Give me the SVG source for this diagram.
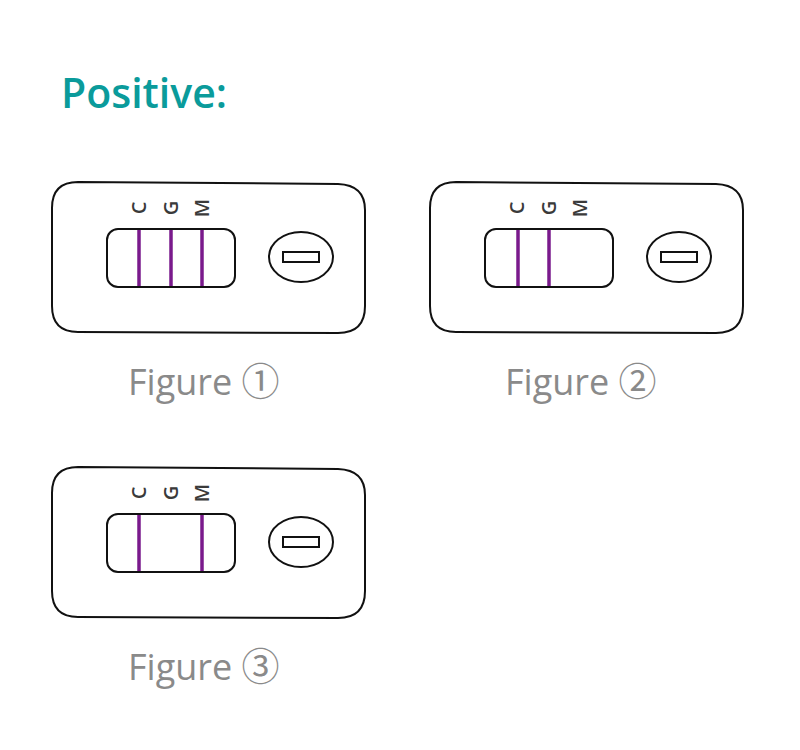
<svg xmlns="http://www.w3.org/2000/svg" width="800" height="750" viewBox="0 0 800 750">
<style>
.card{fill:#fff;stroke:#111;stroke-width:2}
.win{fill:#fff;stroke:#111;stroke-width:2}
.line{stroke:#7a1a8c;stroke-width:3.5}
.lbl{font-family:"Open Sans","Liberation Sans",sans-serif;font-size:20px;font-weight:600;fill:#3a3a3a}
.cap{font-family:"Open Sans","Liberation Sans",sans-serif;font-size:36px;fill:#8a8a8a}
.num{font-family:"Noto Sans CJK SC","Noto Sans CJK JP",sans-serif;font-size:38px}
</style>
<defs>
<g id="cassette">
<path class="card" d="M78,182 L338,184 Q365,185 365,210 L365,306 Q365,333 338,333 L78,332 Q52,332 52,306 L52,208 Q52,182 78,182 Z"/>
<rect class="win" x="107" y="229" width="128" height="58" rx="11"/>
<ellipse class="win" cx="301" cy="257" rx="32" ry="25"/>
<rect fill="#fff" stroke="#111" stroke-width="2" x="283" y="252" width="36" height="10"/>
<text class="lbl" transform="translate(146,208) rotate(-90)" text-anchor="middle">C</text>
<text class="lbl" transform="translate(178,208) rotate(-90)" text-anchor="middle">G</text>
<text class="lbl" transform="translate(209,208) rotate(-90)" text-anchor="middle">M</text>
</g>
</defs>
<text x="61" y="108" font-family="Open Sans,Liberation Sans,sans-serif" font-weight="600" font-size="41" fill="#0a9b9b">Positive:</text>
<g id="figure1">
<use href="#cassette"/>
<line class="line" x1="139" y1="230" x2="139" y2="286"/>
<line class="line" x1="171" y1="230" x2="171" y2="286"/>
<line class="line" x1="202" y1="230" x2="202" y2="286"/>
<text class="cap" x="128" y="395">Figure <tspan class="num">①</tspan></text>
</g>
<g id="figure2">
<use href="#cassette" transform="translate(378,0)"/>
<line class="line" x1="518" y1="230" x2="518" y2="286"/>
<line class="line" x1="549" y1="230" x2="549" y2="286"/>
<text class="cap" x="505" y="395">Figure <tspan class="num">②</tspan></text>
</g>
<g id="figure3">
<use href="#cassette" transform="translate(0,285)"/>
<line class="line" x1="139" y1="515" x2="139" y2="571"/>
<line class="line" x1="202" y1="515" x2="202" y2="571"/>
<text class="cap" x="128" y="680">Figure <tspan class="num">③</tspan></text>
</g>
</svg>
